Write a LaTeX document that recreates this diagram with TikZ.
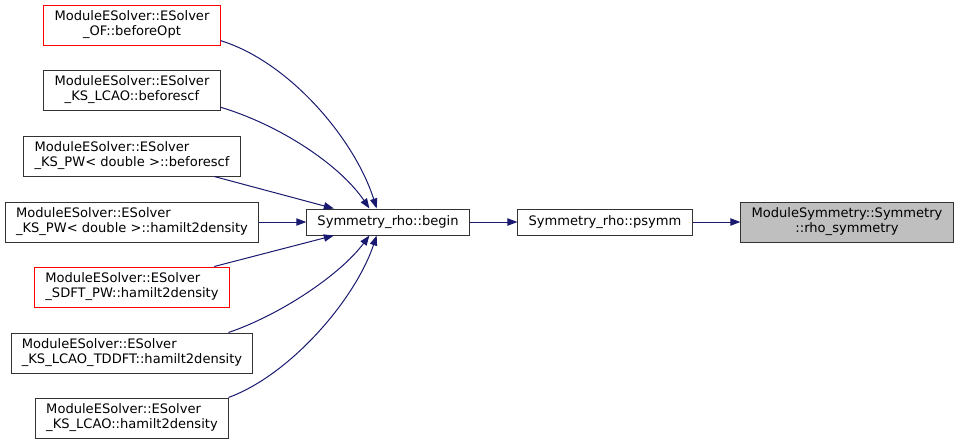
\documentclass[tikz,border=0pt]{standalone}
\usepackage{fontspec}
\setmainfont{DejaVu Sans}
\usetikzlibrary{arrows.meta}
\definecolor{edgeblue}{HTML}{191970}
\definecolor{boxline}{HTML}{333333}
\definecolor{selgray}{HTML}{BFBFBF}
\tikzset{fn/.style={draw=boxline,fill=white,line width=0.75pt,align=center,
  inner xsep=8pt,inner ysep=2pt,minimum height=30pt,
  font=\fontsize{9.8}{11.3}\selectfont},
  fnleft/.style={fn,align=left},
  fnred/.style={fn,draw=red},
  fnone/.style={fn,minimum height=19.5pt},
  fnsel/.style={fn,fill=selgray},
  call/.style={-{Triangle[length=7.5pt,width=5.5pt]},line width=0.75pt,draw=edgeblue}}
\begin{document}
\begin{tikzpicture}[x=0.75pt,y=0.75pt]
\useasboundingbox (0,0) rectangle (960,-444);
% callers
\node[fnred] (of) at (132,-25){ModuleESolver::ESolver\\\_OF::beforeOpt};
\node[fn] (lcaoscf) at (132,-90){ModuleESolver::ESolver\\\_KS\_LCAO::beforescf};
\node[fnleft] (pwscf) at (132,-156){ModuleESolver::ESolver\\\_KS\_PW< double >::beforescf};
\node[fnleft] (pwdens) at (132,-222){ModuleESolver::ESolver\\\_KS\_PW< double >::hamilt2density};
\node[fnred,align=left] (sdft) at (132,-287){ModuleESolver::ESolver\\\_SDFT\_PW::hamilt2density};
\node[fnleft] (tddft) at (132,-353){ModuleESolver::ESolver\\\_KS\_LCAO\_TDDFT::hamilt2density};
\node[fnleft] (lcaodens) at (132,-418){ModuleESolver::ESolver\\\_KS\_LCAO::hamilt2density};
% chain
\node[fnone] (begin) at (388,-222){Symmetry\_rho::begin};
\node[fnone] (psymm) at (605,-222){Symmetry\_rho::psymm};
\node[fnsel] (rhosym) at (847,-222){ModuleSymmetry::Symmetry\\::rho\_symmetry};
\draw[call] (of.-10) .. controls (290,-62) and (355,-140) .. (begin.130);
\draw[call] (lcaoscf.-11) .. controls (280,-125) and (340,-165) .. (begin.144);
\draw[call] (pwscf.-14) -- (begin.166);
\draw[call] (pwdens) -- (begin);
\draw[call] (sdft.14) -- (begin.194);
\draw[call] (tddft.12) .. controls (280,-315) and (340,-275) .. (begin.216);
\draw[call] (lcaodens.12) .. controls (290,-375) and (355,-300) .. (begin.230);
\draw[call] (begin) -- (psymm);
\draw[call] (psymm) -- (rhosym);
\end{tikzpicture}
\end{document}
